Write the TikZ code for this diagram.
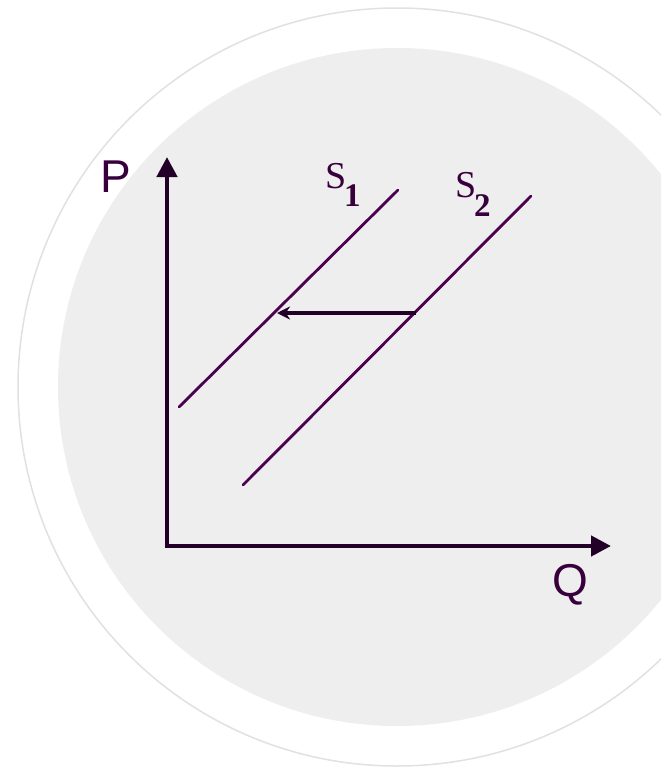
\documentclass[tikz,border=0pt]{standalone}
\usepackage{fontspec}
\setmainfont{Liberation Serif}
\newfontfamily\axfont{Liberation Sans}
\usetikzlibrary{arrows.meta}
\definecolor{axiscol}{RGB}{35,0,40}
\definecolor{curvecol}{RGB}{75,0,80}
\definecolor{textcol}{RGB}{55,0,60}
\definecolor{discfill}{RGB}{238,238,238}
\definecolor{ringcol}{RGB}{225,225,225}
\tikzset{
  axisline/.style={draw=axiscol, line width=4.5pt, -{Triangle[length=20pt,width=20pt]}},
  curveline/.style={draw=curvecol, line width=2.8pt, line cap=round},
  shiftarrow/.style={draw=axiscol, line width=3.6pt, -{Stealth[length=13pt,width=13pt]}},
  axlabel/.style={inner sep=0pt, text=textcol, font=\axfont\fontsize{46}{46}\selectfont},
  slabel/.style={inner sep=0pt, anchor=base west, text=textcol, font=\fontsize{38}{38}\selectfont},
  sublabel/.style={inner sep=0pt, anchor=base west, text=textcol, font=\bfseries\fontsize{33}{33}\selectfont}
}
\begin{document}
\begin{tikzpicture}[x=1pt,y=-1pt]
\useasboundingbox (0,0) rectangle (661,768);
\clip (0,0) rectangle (661,768);
\fill[white] (0,0) rectangle (661,768);
% rings
\draw[ringcol, line width=1.5pt] (397,387) circle[radius=379];
\fill[discfill] (397,387) circle[radius=339];
% axes
\coordinate (O) at (167,546);
\coordinate (Ptop) at (167,157);
\coordinate (Qend) at (611,546);
\draw[axisline] (O) -- (Ptop);
\draw[axisline] ([xshift=-2.25pt]O) -- (Qend);
\node[axlabel] (P) at (116,177) {P};
\node[axlabel] (Q) at (570,585) {Q};
% supply curves
\coordinate (s1a) at (179,407);
\coordinate (s1b) at (398,190);
\coordinate (s2a) at (243,485);
\coordinate (s2b) at (531,196);
\draw[curveline] (s1a) -- (s1b);
\draw[curveline] (s2a) -- (s2b);
% shift arrow
\coordinate (ta) at (416,313);
\coordinate (tb) at (277,313);
\draw[shiftarrow] (ta) -- (tb);
% labels
\node[slabel] (S1) at (325,188) {S};
\node[sublabel] (S1sub) at (344,206) {1};
\node[slabel] (S2) at (455,197) {S};
\node[sublabel] (S2sub) at (474,216) {2};
\end{tikzpicture}
\end{document}
